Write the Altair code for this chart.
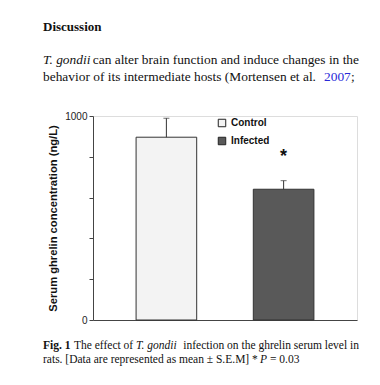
import altair as alt
import pandas as pd

# ---- data ----
groups = ["Control", "Infected"]
means = [896, 641]          # serum ghrelin (ng/L)
sems = [93, 42]             # S.E.M
y_ticks = [0, 100, 200, 300, 400, 500, 600, 700, 800, 900, 1000]
y_title = "Serum ghrelin concentration (ng/L)"

heading = ["Discussion"]
para1_a = ["T. gondii"]
para1_b = ["can alter brain function and induce changes in the"]
para2_a = ["behavior of its intermediate hosts (Mortensen et al."]
para2_b = ["2007"]
para2_c = [";"]
cap1_a = ["Fig. 1"]
cap1_b = ["The effect of"]
cap1_c = ["T. gondii"]
cap1_d = ["infection on the ghrelin serum level in"]
cap2_a = ["rats. [Data are represented as mean \u00b1 S.E.M] *"]
cap2_b = ["P"]
cap2_c = ["= 0.03"]
star = ["*"]

df = pd.DataFrame({"group": groups, "mean": means, "sem": sems})
df["upper"] = df["mean"] + df["sem"]

SANS = "Liberation Sans"
SERIF = "Liberation Serif"

xenc = alt.X(
    "group:N",
    sort=groups,
    scale=alt.Scale(domain=groups, paddingInner=0.483, paddingOuter=0.3675),
    axis=alt.Axis(title=None, labels=False, ticks=False, grid=False,
                  domainColor="#444", domainWidth=1),
)
yenc = alt.Y(
    "mean:Q",
    scale=alt.Scale(domain=[0, 1000], nice=False),
    axis=alt.Axis(
        title=y_title, values=y_ticks, format="d", grid=False,
        labelExpr="datum.value == 0 || datum.value == 1000 ? datum.label : ''",
        tickSize=4, labelPadding=2, tickColor="#444", domainColor="#444",
        labelFont=SANS, labelFontSize=10, labelColor="#222",
        titleFont=SANS, titleFontSize=11.2, titleFontWeight="bold", titleColor="#111",
        titleAngle=-90, titleX=-40, titleY=102, titleAlign="center",
        titleBaseline="middle",
    ),
)

base = alt.Chart(df)

bars = base.mark_bar(stroke="#333", strokeWidth=1).encode(
    x=xenc,
    y=yenc,
    fill=alt.Fill(
        "group:N",
        scale=alt.Scale(domain=groups, range=["#f3f3f3", "#595959"]),
        legend=alt.Legend(
            title=None, orient="none", legendX=124, legendY=2, padding=0,
            symbolType="square", symbolSize=56, symbolStrokeColor="#222",
            symbolStrokeWidth=1, labelFont=SANS, labelFontWeight="bold",
            labelFontSize=10, labelColor="#111", labelOffset=4, rowPadding=6,
        ),
    ),
)

err = base.mark_rule(color="#333", strokeWidth=1).encode(
    x=alt.X("group:N", sort=groups), y="mean:Q", y2="upper:Q"
)
caps = base.mark_tick(color="#333", thickness=1, size=6).encode(
    x=alt.X("group:N", sort=groups), y="upper:Q"
)
asterisk = base.transform_filter(alt.datum.group == "Infected").mark_text(
    text=star[0], font=SANS, fontSize=18, fontWeight="bold", color="#111",
    baseline="alphabetic", align="center"
).encode(x=alt.X("group:N", sort=groups), y=alt.value(46))


def txt(values, x, y, font=SERIF, size=12, weight="normal", style="normal",
        color="#111", align="left"):
    return alt.Chart(pd.DataFrame({"t": values})).mark_text(
        font=font, fontSize=size, fontWeight=weight, fontStyle=style,
        color=color, align=align, baseline="alphabetic",
    ).encode(text="t:N", x=alt.value(x), y=alt.value(y))


PS = 13.4   # paragraph font size
CS = 11.5   # caption font size
texts = [
    txt(heading, -50, -85, size=13, weight="bold"),
    txt(para1_a, -50, -52, size=PS, style="italic"),
    txt(para1_b, 266, -52, size=PS, align="right"),
    txt(para2_a, -50, -35.3, size=PS),
    txt(para2_b, 231, -35.3, size=PS, color="#2a2ad8"),
    txt(para2_c, 258, -35.3, size=PS),
    txt(cap1_a, -50, 233.3, size=CS, weight="bold"),
    txt(cap1_b, -19, 233.3, size=CS),
    txt(cap1_c, 43, 233.3, size=CS, style="italic"),
    txt(cap1_d, 266, 233.3, size=CS, align="right"),
    txt(cap2_a, -50, 247.3, size=CS),
    txt(cap2_b, 167, 247.3, size=CS, style="italic"),
    txt(cap2_c, 177, 247.3, size=CS),
]

chart = alt.layer(bars, err, caps, asterisk, *texts).properties(
    width=264,
    height=204,
    padding={"left": 85, "top": 108, "right": 15, "bottom": 57},
    autosize=alt.AutoSizeParams(type="none"),
).configure_view(stroke=None).configure(background="white")

chart.save("out.html", embed_options={"renderer": "svg", "actions": False})
